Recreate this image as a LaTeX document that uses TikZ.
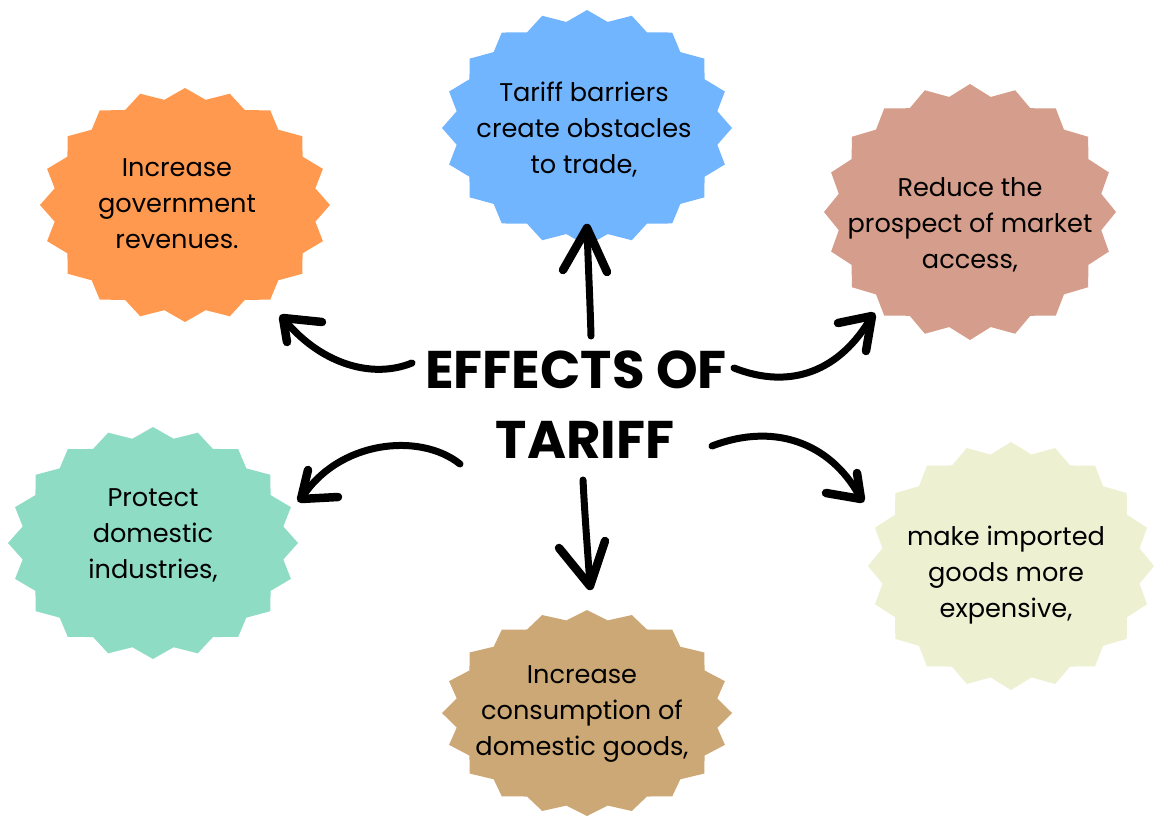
\documentclass[tikz,border=0pt]{standalone}
\usepackage{fontspec}
\setmainfont{Poppins}
\usetikzlibrary{calc}
\definecolor{cOrange}{HTML}{FF9950}
\definecolor{cBlue}{HTML}{72B5FF}
\definecolor{cPink}{HTML}{D59D8B}
\definecolor{cGreen}{HTML}{8FDCC4}
\definecolor{cTan}{HTML}{CCA876}
\definecolor{cYellow}{HTML}{EDF1D2}
\newcommand\burstshape[5]{% color, cx, cy, rx, ry
  \fill[#1] ({#2+#4},#3) \foreach \k in {1,...,39}{
    -- ({#2+#4*(1-0.09*isodd(\k))*cos(9*\k)},{#3+#5*(1-0.09*isodd(\k))*sin(9*\k)})} -- cycle;}
\begin{document}
\begin{tikzpicture}[x=1pt,y=-1pt,
  lbl/.style={align=center,font=\fontsize{25.6}{36}\selectfont,inner sep=0pt},
  ttl/.style={font=\fontsize{53}{70}\selectfont\bfseries,inner sep=0pt},
  shaft/.style={line width=7pt,line cap=round},
  head/.style={line width=8.5pt,line cap=round,line join=round}]
\useasboundingbox (0,0) rectangle (1154,816);
\fill[white] (0,0) rectangle (1154,816);
% bursts
\burstshape{cOrange}{185}{205}{145}{117}
\burstshape{cBlue}{587}{128}{145}{118}
\burstshape{cPink}{970}{212}{146}{128}
\burstshape{cGreen}{153}{543}{145}{116}
\burstshape{cTan}{587}{713}{145}{103}
\burstshape{cYellow}{1011}{566}{143}{124}
% labels
\node[lbl] (orange) at (177,203.5) {Increase\\government\\revenues.};
\node[lbl] (blue) at (584,130) {Tariff barriers\\create obstacles\\to trade,};
\node[lbl] (pink) at (970,224.5) {Reduce the\\prospect of market\\access,};
\node[lbl] (green) at (153,535.5) {Protect\\domestic\\industries,};
\node[lbl] (tan) at (582,714.5) {Increase\\consumption of\\domestic goods,};
\node[lbl] (yellow) at (1006,575) {make imported\\goods more\\expensive,};
% title
\node[ttl] (title1) at (576,370) {EFFECTS OF};
\node[ttl] (title2) at (585,440) {TARIFF};
% arrow coordinates
\coordinate (a1s) at (412,363); \coordinate (a1t) at (283,318);
\coordinate (a1b) at (322,322); \coordinate (a1c) at (287,342);
\coordinate (a2s) at (591,336); \coordinate (a2t) at (587,228);
\coordinate (a2b) at (563,270); \coordinate (a2c) at (607,272);
\coordinate (a3s) at (734,368); \coordinate (a3t) at (872,316);
\coordinate (a3b) at (838,323); \coordinate (a3c) at (866,351);
\coordinate (a4s) at (460,464); \coordinate (a4t) at (301,499);
\coordinate (a4b) at (338,497); \coordinate (a4c) at (308,470);
\coordinate (a5s) at (583,480); \coordinate (a5t) at (590,586);
\coordinate (a5b) at (559,548); \coordinate (a5c) at (605,541);
\coordinate (a6s) at (712,446); \coordinate (a6t) at (861,499);
\coordinate (a6b) at (826,493); \coordinate (a6c) at (857,473);
% arrows
\draw[shaft] (a1s) .. controls (370,380) and (318,362) .. (a1t);
\draw[head] (a1b) -- (a1t) -- (a1c);
\draw[shaft] (a2s) .. controls (590,300) and (588,260) .. (a2t);
\draw[head] (a2b) -- (a2t) -- (a2c);
\draw[shaft] (a3s) .. controls (790,390) and (840,372) .. (a3t);
\draw[head] (a3b) -- (a3t) -- (a3c);
\draw[shaft] (a4s) .. controls (420,432) and (338,440) .. (a4t);
\draw[head] (a4b) -- (a4t) -- (a4c);
\draw[shaft] (a5s) .. controls (585,520) and (588,555) .. (a5t);
\draw[head] (a5b) -- (a5t) -- (a5c);
\draw[shaft] (a6s) .. controls (780,420) and (835,448) .. (a6t);
\draw[head] (a6b) -- (a6t) -- (a6c);
\end{tikzpicture}
\end{document}
